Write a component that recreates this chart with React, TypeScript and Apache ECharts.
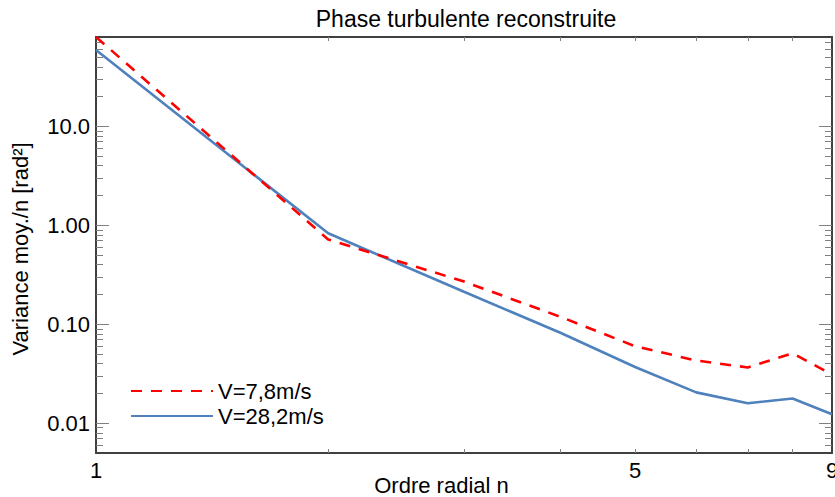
import React, { useEffect, useRef } from 'react';
import * as echarts from 'echarts';

const radialOrders = [1, 2, 3, 4, 5, 6, 7, 8, 9];
const varianceV78 = [80, 0.72, 0.27, 0.119, 0.06, 0.043, 0.0366, 0.051, 0.031];
const varianceV282 = [59, 0.83, 0.213, 0.082, 0.037, 0.0205, 0.0159, 0.0178, 0.0123];
const seriesNames = ['V=7,8m/s', 'V=28,2m/s'];

const xLabelValues = [1, 5, 9];
const xTickValues = [2, 3, 4, 5, 6, 7, 8];
const yMajorValues = [0.01, 0.1, 1, 10];
const yLabelTexts = ['0.01', '0.10', '1.00', '10.0'];
const yMinorValues = [
  0.006, 0.007, 0.008, 0.009,
  0.02, 0.03, 0.04, 0.05, 0.06, 0.07, 0.08, 0.09,
  0.2, 0.3, 0.4, 0.5, 0.6, 0.7, 0.8, 0.9,
  2, 3, 4, 5, 6, 7, 8, 9,
  20, 30, 40, 50, 60, 70,
];

const FONT = 'Liberation Sans, Arial, sans-serif';
const AXIS_COLOR = '#404040';
const TICK_COLOR = '#808080';
const FS = 22;

export default function App() {
  const ref = useRef<HTMLDivElement>(null);

  useEffect(() => {
    if (!ref.current) return;
    const chart = echarts.init(ref.current, null, { renderer: 'svg' });

    const xBase = {
      type: 'log',
      logBase: 10,
      min: 1,
      max: 9,
      splitLine: { show: false },
    };
    const yBase = {
      type: 'log',
      logBase: 10,
      min: 0.005,
      max: 80,
      splitLine: { show: false },
    };

    const labelFor = (v: number) => {
      const i = yMajorValues.findIndex((m) => Math.abs(m - v) / m < 1e-6);
      return i >= 0 ? yLabelTexts[i] : '';
    };

    chart.setOption({
      animation: false,
      backgroundColor: '#ffffff',
      textStyle: { fontFamily: FONT },
      title: {
        text: 'Phase turbulente reconstruite',
        left: 461,
        top: 2,
        textAlign: 'center',
        textStyle: { fontFamily: FONT, fontSize: 23, fontWeight: 'normal', color: '#000' },
      },
      grid: { left: 96, right: 3, top: 37, bottom: 44, containLabel: false, outerBoundsMode: 'none' },
      legend: {
        orient: 'vertical',
        left: 125,
        top: 375,
        itemWidth: 82,
        itemHeight: 22,
        itemGap: 3,
        itemStyle: { opacity: 0 },
        textStyle: { fontFamily: FONT, fontSize: FS, color: '#000', lineHeight: 22 },
        data: seriesNames,
      },
      xAxis: [
        {
          ...xBase,
          position: 'bottom',
          name: 'Ordre radial n',
          nameLocation: 'middle',
          nameGap: 21,
          nameMoveOverlap: false,
          nameTextStyle: { fontFamily: FONT, fontSize: FS, color: '#000', padding: [0, 45, 0, 0] },
          axisLine: { show: true, lineStyle: { color: AXIS_COLOR, width: 2 } },
          axisTick: { show: true, inside: true, length: 4, customValues: xTickValues, lineStyle: { color: TICK_COLOR, width: 1 } },
          axisLabel: {
            show: true,
            customValues: xLabelValues,
            margin: 6,
            fontFamily: FONT,
            fontSize: FS,
            color: '#000',
            formatter: (v: number) => String(Math.round(v)),
          },
        },
        {
          ...xBase,
          position: 'top',
          axisLine: { show: true, lineStyle: { color: AXIS_COLOR, width: 2 } },
          axisTick: { show: true, inside: true, length: 4, customValues: xTickValues, lineStyle: { color: TICK_COLOR, width: 1 } },
          axisLabel: { show: false },
        },
      ],
      yAxis: [
        {
          ...yBase,
          position: 'left',
          name: 'Variance moy./n [rad²]',
          nameLocation: 'middle',
          nameGap: 65,
          nameMoveOverlap: false,
          nameTextStyle: { fontFamily: FONT, fontSize: FS, color: '#000', padding: [0, 8, 0, 0] },
          axisLine: { show: true, lineStyle: { color: AXIS_COLOR, width: 2 } },
          axisTick: { show: true, inside: true, length: 13, customValues: yMajorValues, lineStyle: { color: TICK_COLOR, width: 1 } },
          axisLabel: {
            show: true,
            customValues: yMajorValues,
            margin: 6,
            fontFamily: FONT,
            fontSize: FS,
            color: '#000',
            formatter: (v: number) => labelFor(v),
          },
        },
        {
          ...yBase,
          position: 'left',
          axisLine: { show: false },
          axisTick: { show: true, inside: true, length: 7, customValues: yMinorValues, lineStyle: { color: TICK_COLOR, width: 1 } },
          axisLabel: { show: false },
        },
        {
          ...yBase,
          position: 'right',
          axisLine: { show: true, lineStyle: { color: AXIS_COLOR, width: 2 } },
          axisTick: { show: true, inside: true, length: 13, customValues: yMajorValues, lineStyle: { color: TICK_COLOR, width: 1 } },
          axisLabel: { show: false },
        },
        {
          ...yBase,
          position: 'right',
          axisLine: { show: false },
          axisTick: { show: true, inside: true, length: 7, customValues: yMinorValues, lineStyle: { color: TICK_COLOR, width: 1 } },
          axisLabel: { show: false },
        },
      ],
      series: [
        {
          name: seriesNames[0],
          type: 'line',
          xAxisIndex: 0,
          yAxisIndex: 0,
          symbol: 'none',
          data: radialOrders.map((n, i) => [n, varianceV78[i]]),
          lineStyle: { color: '#ff0000', width: 2.6, type: [11, 9] },
          itemStyle: { color: '#ff0000' },
          z: 3,
        },
        {
          name: seriesNames[1],
          type: 'line',
          xAxisIndex: 0,
          yAxisIndex: 0,
          symbol: 'none',
          data: radialOrders.map((n, i) => [n, varianceV282[i]]),
          lineStyle: { color: '#4f81bd', width: 2.6, type: 'solid' },
          itemStyle: { color: '#4f81bd' },
          z: 2,
        },
      ],
    } as any);

    return () => chart.dispose();
  }, []);

  return <div ref={ref} style={{ width: 835, height: 497, position: 'absolute', left: 0, top: 0 }} />;
}
